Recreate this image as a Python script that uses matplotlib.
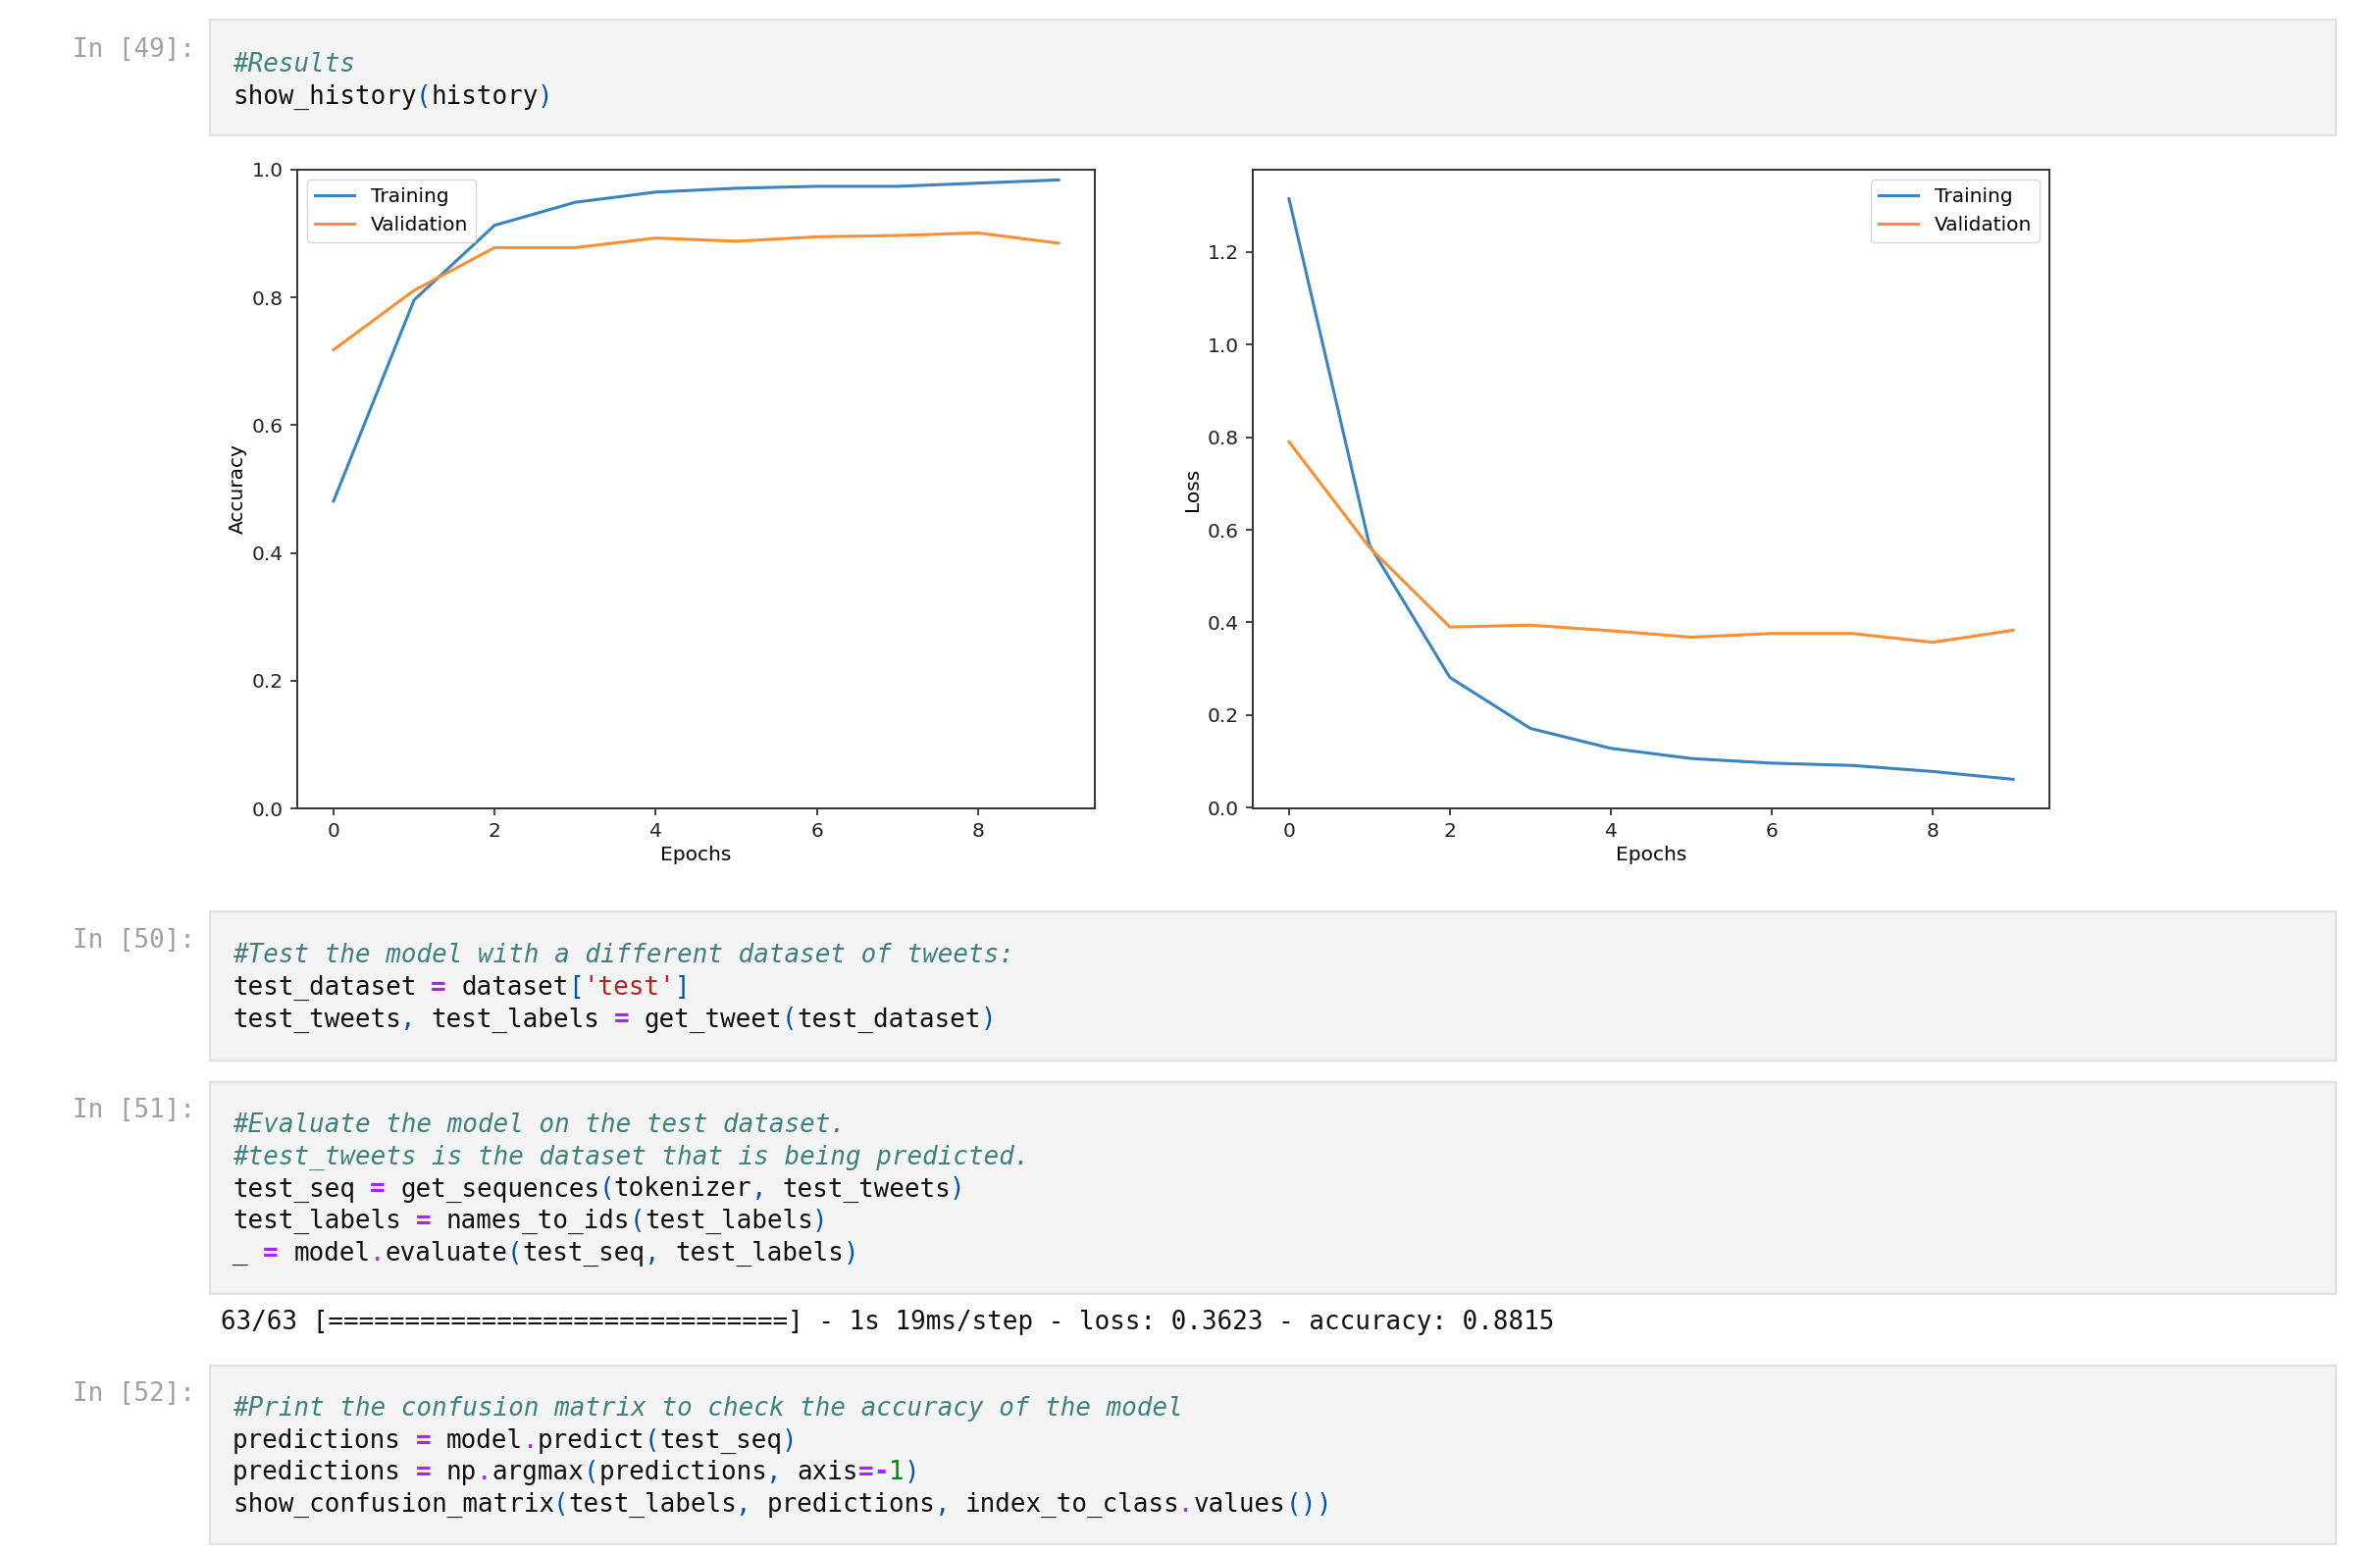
import re
import matplotlib.pyplot as plt
from matplotlib.patches import Rectangle

W, H = 2426, 1582

# training history
epochs = list(range(10))
train_acc = [0.481, 0.796, 0.913, 0.949, 0.965, 0.971, 0.974, 0.974, 0.979, 0.984]
val_acc = [0.718, 0.811, 0.878, 0.878, 0.893, 0.888, 0.895, 0.897, 0.901, 0.885]
train_loss = [1.315, 0.567, 0.281, 0.171, 0.128, 0.106, 0.096, 0.091, 0.078, 0.061]
val_loss = [0.790, 0.562, 0.390, 0.394, 0.382, 0.368, 0.376, 0.376, 0.357, 0.383]

# notebook cells around the figure
prompts = ["In [49]:", "In [50]:", "In [51]:", "In [52]:"]
cell_49 = ["#Results",
           "show_history(history)"]
cell_50 = ["#Test the model with a different dataset of tweets:",
           "test_dataset = dataset['test']",
           "test_tweets, test_labels = get_tweet(test_dataset)"]
cell_51 = ["#Evaluate the model on the test dataset.",
           "#test_tweets is the dataset that is being predicted.",
           "test_seq = get_sequences(tokenizer, test_tweets)",
           "test_labels = names_to_ids(test_labels)",
           "_ = model.evaluate(test_seq, test_labels)"]
cell_52 = ["#Print the confusion matrix to check the accuracy of the model",
           "predictions = model.predict(test_seq)",
           "predictions = np.argmax(predictions, axis=-1)",
           "show_confusion_matrix(test_labels, predictions, index_to_class.values())"]
eval_steps = "63/63"
eval_loss = 0.3623
eval_acc = 0.8815

CODE_FONT = "DejaVu Sans Mono"
CODE_FS = 18.6
ADV = CODE_FS * 100 / 72 * 0.60205

STYLES = {
    "comment": dict(color="#408080", style="italic"),
    "op": dict(color="#AA22FF", weight="bold"),
    "dot": dict(color="#AA22FF"),
    "string": dict(color="#BA2121"),
    "bracket": dict(color="#0055AA"),
    "number": dict(color="#008800"),
    "name": dict(color="#111111"),
}


def fx(x):
    return x / W


def fy(y):
    return 1 - y / H


def tokenize(line):
    if line.startswith("#"):
        return [(0, line, "comment")]
    out = []
    for m in re.finditer(r"'[^']*'|[=\-]|\.|[()\[\],]|\b\d+\b|[A-Za-z_][A-Za-z_0-9]*|\s+|.", line):
        t = m.group()
        if t.isspace():
            continue
        if t.startswith("'"):
            kind = "string"
        elif t in "=-":
            kind = "op"
        elif t == ".":
            kind = "dot"
        elif t in "()[],":
            kind = "bracket"
        elif t.isdigit():
            kind = "number"
        else:
            kind = "name"
        out.append((m.start(), t, kind))
    return out


def draw_cell(fig, top, bottom, prompt, lines, first_base):
    fig.patches.append(Rectangle((fx(214), fy(bottom)), fx(2381) - fx(214), fy(top) - fy(bottom),
                                 transform=fig.transFigure, facecolor="#f4f4f4",
                                 edgecolor="#e0e0e0", linewidth=1.6))
    fig.text(fx(199), fy(first_base - 15), prompt, family=CODE_FONT, fontsize=CODE_FS,
             color="#a0a0a0", ha="right", va="baseline")
    for i, line in enumerate(lines):
        base = first_base + i * 32.7
        for col, tok, kind in tokenize(line):
            fig.text(fx(237 + col * ADV), fy(base), tok, family=CODE_FONT, fontsize=CODE_FS,
                     ha="left", va="baseline", **STYLES[kind])


plt.rcParams["font.family"] = "DejaVu Sans"
fig = plt.figure(figsize=(W / 100, H / 100), dpi=100)

draw_cell(fig, 20, 138, prompts[0], cell_49, 73)
draw_cell(fig, 929, 1081, prompts[1], cell_50, 981)
draw_cell(fig, 1103, 1319, prompts[2], cell_51, 1154)
draw_cell(fig, 1392, 1574, prompts[3], cell_52, 1443)

out_line = f"{eval_steps} [{'=' * 30}] - 1s 19ms/step - loss: {eval_loss:.4f} - accuracy: {eval_acc:.4f}"
fig.text(fx(225), fy(1355), out_line, family=CODE_FONT, fontsize=CODE_FS, color="#111111",
         ha="left", va="baseline")

# the two history panels
FS = 14.5
BLUE, ORANGE = "#3a84c2", "#f88f32"
ax1 = fig.add_axes([fx(303), fy(824), fx(1116) - fx(303), fy(173) - fy(824)])
ax2 = fig.add_axes([fx(1277), fy(824), fx(2089) - fx(1277), fy(173) - fy(824)])

ax1.plot(epochs, train_acc, label="Training", lw=2.2, color=BLUE)
ax1.plot(epochs, val_acc, label="Validation", lw=2.2, color=ORANGE)
ax1.set_ylim(0, 1)
ax1.set_ylabel("Accuracy", fontsize=FS)
ax1.legend(loc="upper left", fontsize=FS)

ax2.plot(epochs, train_loss, label="Training", lw=2.2, color=BLUE)
ax2.plot(epochs, val_loss, label="Validation", lw=2.2, color=ORANGE)
ax2.set_ylabel("Loss", fontsize=FS)
ax2.legend(loc="upper right", fontsize=FS)

for ax in (ax1, ax2):
    ax.set_xlabel("Epochs", fontsize=FS)
    ax.tick_params(labelsize=FS, length=5, width=1.2, pad=5, colors="#222222")
    for sp in ax.spines.values():
        sp.set_linewidth(1.4)
        sp.set_color("#333333")

fig.savefig("out.png", dpi=100, facecolor="white")
